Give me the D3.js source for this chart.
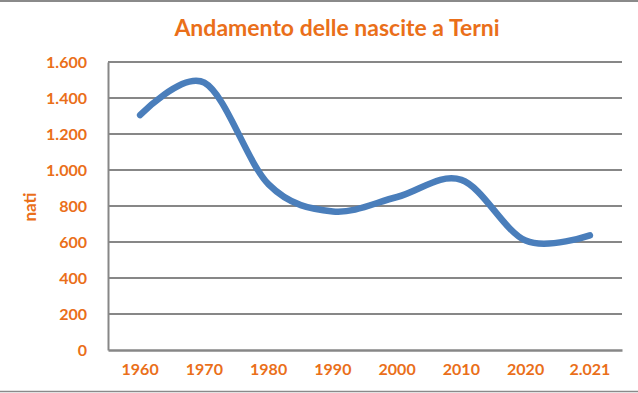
<!DOCTYPE html>
<html>
<head>
<meta charset="utf-8">
<script src="https://cdn.jsdelivr.net/npm/d3@7/dist/d3.min.js"></script>
<style>
  body { margin: 0; background: #fff; }
  svg { display: block; }
  text { font-family: Lato, "Open Sans", sans-serif; font-weight: bold; fill: #ea6f1a; }
</style>
</head>
<body>
<div id="chart"></div>
<script>
// data
const years = ["1960", "1970", "1980", "1990", "2000", "2010", "2020", "2.021"];
const births = [1305, 1485, 920, 770, 850, 945, 608, 637];
const yTicks = [0, 200, 400, 600, 800, 1000, 1200, 1400, 1600];

const width = 638, height = 393;
const margin = {top: 62, right: 16, bottom: 43, left: 108};

const svg = d3.select("#chart")
  .append("svg")
  .attr("width", width)
  .attr("height", height);

// outer frame lines (top and bottom of the chart area)
svg.append("line")
  .attr("x1", 0).attr("x2", width)
  .attr("y1", 1).attr("y2", 1)
  .attr("stroke", "#8a8a8a").attr("stroke-width", 2);
svg.append("line")
  .attr("x1", 0).attr("x2", width)
  .attr("y1", 391.5).attr("y2", 391.5)
  .attr("stroke", "#8a8a8a").attr("stroke-width", 1.5);

let x = d3.scaleBand()
  .domain(years)
  .range([margin.left, width - margin.right]);

let y = d3.scaleLinear()
  .domain([0, 1600])
  .range([height - margin.bottom, margin.top]);

// horizontal gridlines
svg.append("g")
  .selectAll("line")
  .data(yTicks.filter(d => d > 0))
  .enter().append("line")
  .attr("x1", margin.left)
  .attr("x2", width - margin.right)
  .attr("y1", d => y(d))
  .attr("y2", d => y(d))
  .attr("stroke", "#878787")
  .attr("stroke-width", 2);

// y axis
let fmt = d3.formatLocale({decimal: ",", thousands: ".", grouping: [3], currency: ["", "€"]}).format(",d");
let yAxis = svg.append("g")
  .attr("transform", "translate(" + margin.left + ",0)")
  .call(d3.axisLeft(y).tickValues(yTicks).tickFormat(fmt).tickSize(0).tickPadding(21));
yAxis.select(".domain").attr("stroke", "#878787").attr("stroke-width", 2);
yAxis.selectAll("text").attr("font-size", 16).attr("font-family", null).attr("fill", null);

// x axis
let xAxis = svg.append("g")
  .attr("transform", "translate(0," + (height - margin.bottom) + ")")
  .call(d3.axisBottom(x).tickSize(0).tickPadding(14));
xAxis.select(".domain").attr("stroke", "#878787").attr("stroke-width", 2.5);
xAxis.selectAll("text").attr("font-size", 16).attr("font-family", null).attr("fill", null);

// the smoothed line
let line = d3.line()
  .x((d, i) => x(years[i]) + x.bandwidth() / 2)
  .y(d => y(d))
  .curve(d3.curveCardinal.tension(0));

svg.append("path")
  .datum(births)
  .attr("d", line)
  .attr("fill", "none")
  .attr("stroke", "#4a7ebb")
  .attr("stroke-width", 6.5)
  .attr("stroke-linecap", "round")
  .attr("stroke-linejoin", "round");

// title
svg.append("text")
  .attr("x", 337)
  .attr("y", 36)
  .attr("text-anchor", "middle")
  .attr("font-size", 23)
  .text("Andamento delle nascite a Terni");

// y axis label
svg.append("text")
  .attr("transform", "translate(36,207) rotate(-90)")
  .attr("text-anchor", "middle")
  .attr("font-size", 17)
  .text("nati");
</script>
</body>
</html>
